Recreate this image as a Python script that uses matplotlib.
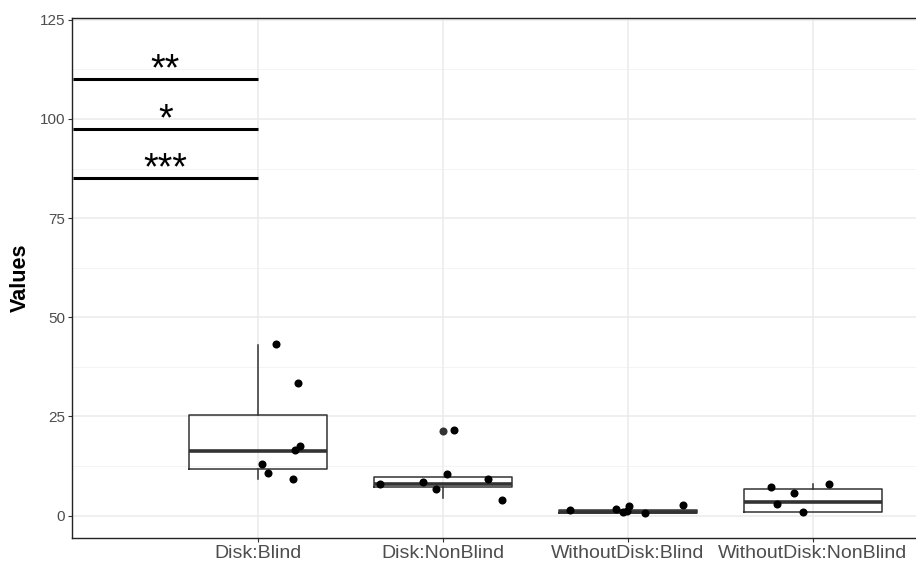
import matplotlib
matplotlib.use("Agg")
import matplotlib.pyplot as plt
import numpy as np

categories = ["Disk:Blind", "Disk:NonBlind", "WithoutDisk:Blind", "WithoutDisk:NonBlind"]

# jittered points: values and horizontal jitter offsets (category units)
points_y = [
    [43.3, 33.4, 17.6, 16.5, 13.1, 10.6, 9.3],
    [7.9, 8.4, 6.6, 10.4, 9.2, 4.0, 21.6],
    [1.44, 1.7, 1.0, 1.26, 2.35, 0.68, 2.6],
    [7.3, 5.8, 2.8, 0.95, 8.0],
]
points_dx = [
    [0.097, 0.215, 0.227, 0.198, 0.023, 0.052, 0.19],
    [-0.338, -0.109, -0.035, 0.023, 0.246, 0.32, 0.058],
    [-0.314, -0.066, -0.025, -0.005, 0.004, 0.094, 0.30],
    [-0.229, -0.103, -0.193, -0.056, 0.086],
]

# box statistics
box_q1 = [11.8, 7.25, 0.7, 0.8]
box_med = [16.2, 8.0, 1.0, 3.4]
box_q3 = [25.3, 9.8, 1.3, 6.8]
box_whislo = [9.3, 4.5, 0.5, 0.8]
box_whishi = [43.0, 9.8, 1.6, 8.0]
box_fliers = [[], [21.2], [], []]

# significance annotations
sig_y = [110, 97.5, 85]
sig_labels = ["**", "*", "***"]
sig_x = [0, 1]

y_ticks = [0, 25, 50, 75, 100, 125]

fig = plt.figure(figsize=(9.16, 5.68), dpi=100)
ax = fig.add_axes([72/916, 30/568, 1 - 72/916, (538-18)/568])

positions = np.arange(1, len(categories) + 1)

# grid
for yv in y_ticks:
    ax.axhline(yv, color="#ebebeb", lw=1.1, zorder=0)
for yv in np.arange(12.5, 126, 25):
    ax.axhline(yv, color="#f2f2f2", lw=0.6, zorder=0)
for xp in positions:
    ax.axvline(xp, color="#ebebeb", lw=1.1, zorder=0)

stats = []
for i in range(len(categories)):
    stats.append(dict(q1=box_q1[i], med=box_med[i], q3=box_q3[i],
                      whislo=box_whislo[i], whishi=box_whishi[i],
                      fliers=box_fliers[i]))
ax.bxp(stats, positions=positions, widths=0.75, showcaps=False,
       boxprops=dict(color="#333333", lw=1.1),
       whiskerprops=dict(color="#333333", lw=1.1),
       medianprops=dict(color="#333333", lw=2.6),
       flierprops=dict(marker="o", markerfacecolor="#333333", markeredgecolor="none",
                       markersize=5.8),
       zorder=2)

for i, (ys, dxs) in enumerate(zip(points_y, points_dx)):
    xs = [positions[i] + d for d in dxs]
    ax.plot(xs, ys, "o", color="black", markersize=5.8, markeredgewidth=0, zorder=3)

for yv, lab in zip(sig_y, sig_labels):
    ax.plot(sig_x, [yv, yv], color="black", lw=2.2, solid_capstyle="butt", zorder=3)
    ax.text(np.mean(sig_x), yv - 0.3, lab, ha="center", va="baseline",
            fontsize=27, family="Liberation Sans", color="black")

ax.set_xlim(-0.005, 4.557)
ax.set_ylim(-5.67, 125.45)
ax.set_xticks(positions)
ax.set_xticklabels(categories, fontsize=14, family="Liberation Sans", color="#4d4d4d")
ax.set_yticks(y_ticks)
ax.set_yticklabels([str(v) for v in y_ticks], fontsize=11, family="Liberation Sans", color="#4d4d4d")
ax.tick_params(axis="both", length=3, width=0.8, color="#333333", pad=2)
ax.set_ylabel("Values", fontsize=15.5, fontweight="bold", family="Liberation Sans", labelpad=6)

for s in ["left", "bottom", "top"]:
    ax.spines[s].set_color("#222222")
    ax.spines[s].set_linewidth(1.0)
ax.spines["right"].set_visible(False)
ax.set_facecolor("white")

fig.savefig("out.png", dpi=100)
